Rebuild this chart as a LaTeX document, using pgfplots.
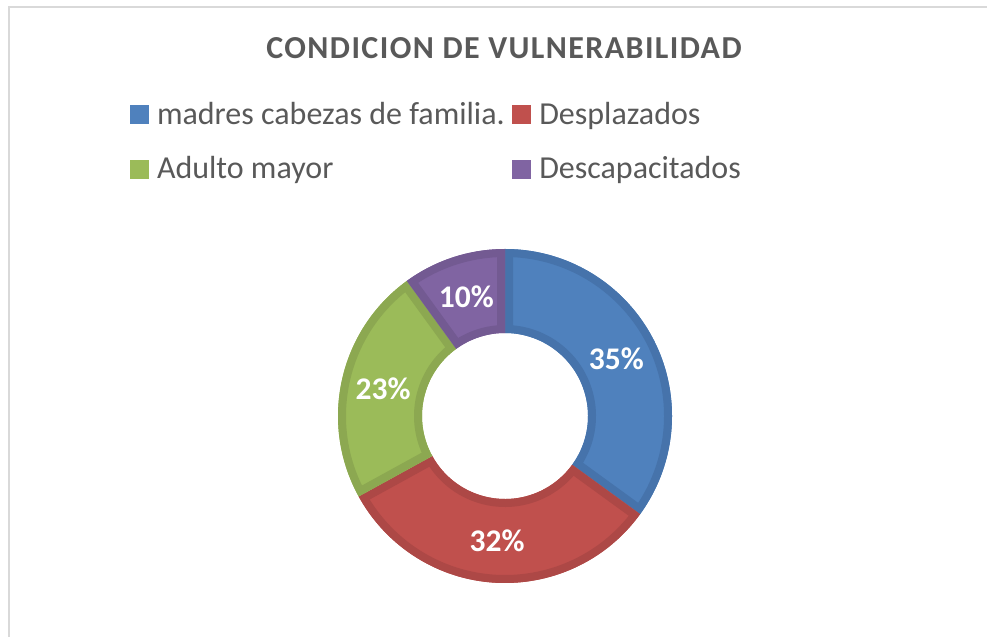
\documentclass[border=0pt]{standalone}
\usepackage{pgfplots}
\pgfplotsset{compat=1.18}
\usepackage{pgfplotstable}
\usepackage{fontspec}
\setmainfont{Carlito}
\newfontfamily\titlefont[LetterSpace=4.4]{Carlito}

\definecolor{cBlue}{HTML}{4F81BD}
\definecolor{cBlueD}{HTML}{4673AB}
\definecolor{cRed}{HTML}{C0504D}
\definecolor{cRedD}{HTML}{AD4846}
\definecolor{cGreen}{HTML}{9BBB59}
\definecolor{cGreenD}{HTML}{8CA851}
\definecolor{cPurple}{HTML}{8064A2}
\definecolor{cPurpleD}{HTML}{735A92}
\definecolor{txtgray}{HTML}{595959}
\definecolor{framegray}{HTML}{D9D9D9}

\pgfplotstableread{
label value fill edge
madres 35 cBlue cBlueD
desplazados 32 cRed cRedD
adulto 23 cGreen cGreenD
descapacitados 10 cPurple cPurpleD
}\datatable

\begin{document}
\begin{tikzpicture}
\begin{axis}[
  scale only axis, width=987bp, height=637bp,
  xmin=0, xmax=987, ymin=0, ymax=637,
  hide axis, clip=false,
  legend columns=2,
  legend image code/.code={\fill[#1, draw=none] (0bp,0bp) rectangle (19bp,19bp);},
  legend style={at={(axis cs:130,535)}, anchor=north west, draw=none, fill=none,
    inner sep=0pt, outer sep=0pt, row sep=31bp,
    font=\fontsize{32bp}{38bp}\selectfont, text=txtgray,
    nodes={inner sep=0pt, anchor=base west}},
  legend cell align=left,
  /tikz/every odd column/.append style={column sep=8bp},
  /tikz/every even column/.append style={column sep=7.5bp},
]
\addlegendimage{fill=cBlue}
\addlegendentry{madres cabezas de familia.}
\addlegendimage{fill=cRed}
\addlegendentry{Desplazados}
\addlegendimage{fill=cGreen}
\addlegendentry{Adulto mayor}
\addlegendimage{fill=cPurple}
\addlegendentry{Descapacitados}

\pgfplotsextra{
  \draw[framegray, line width=2bp] (axis cs:9,0) -- (axis cs:9,630) -- (axis cs:987,630);
  \node[anchor=base, text=txtgray, font=\titlefont\bfseries\fontsize{32bp}{38bp}\selectfont]
    at (axis cs:504,578.7) {CONDICION DE VULNERABILIDAD};
  \gdef\cum{0}
  \foreach \i in {0,1,2,3}{
    \pgfplotstablegetelem{\i}{value}\of\datatable \let\val\pgfplotsretval
    \pgfplotstablegetelem{\i}{fill}\of\datatable \let\fc\pgfplotsretval
    \pgfplotstablegetelem{\i}{edge}\of\datatable \let\ec\pgfplotsretval
    \pgfmathsetmacro\aone{90-3.6*\cum}
    \pgfmathsetmacro\atwo{90-3.6*(\cum+\val)}
    \pgfmathsetmacro\amid{(\aone+\atwo)/2}
    \begin{scope}[shift={(axis cs:505,221)}]
      \fill[fill=\fc] (\aone:167bp) arc[start angle=\aone,end angle=\atwo,radius=167bp]
        -- (\atwo:83bp) arc[start angle=\atwo,end angle=\aone,radius=83bp] -- cycle;
      \begin{scope}
        \clip (\aone:167bp) arc[start angle=\aone,end angle=\atwo,radius=167bp]
          -- (\atwo:83bp) arc[start angle=\atwo,end angle=\aone,radius=83bp] -- cycle;
        \draw[draw=\ec, line width=16bp, line join=miter] (\aone:167bp) arc[start angle=\aone,end angle=\atwo,radius=167bp]
          -- (\atwo:83bp) arc[start angle=\atwo,end angle=\aone,radius=83bp] -- cycle;
      \end{scope}
      \node[text=white, font=\bfseries\fontsize{31.5bp}{37bp}\selectfont] at (\amid:125bp) {\val\%};
    \end{scope}
    \pgfmathsetmacro\newcum{\cum+\val}
    \global\let\cum\newcum
  }
}
\end{axis}
\pgfresetboundingbox
\path (current axis.south west) rectangle (current axis.north east);
\end{tikzpicture}
\end{document}
